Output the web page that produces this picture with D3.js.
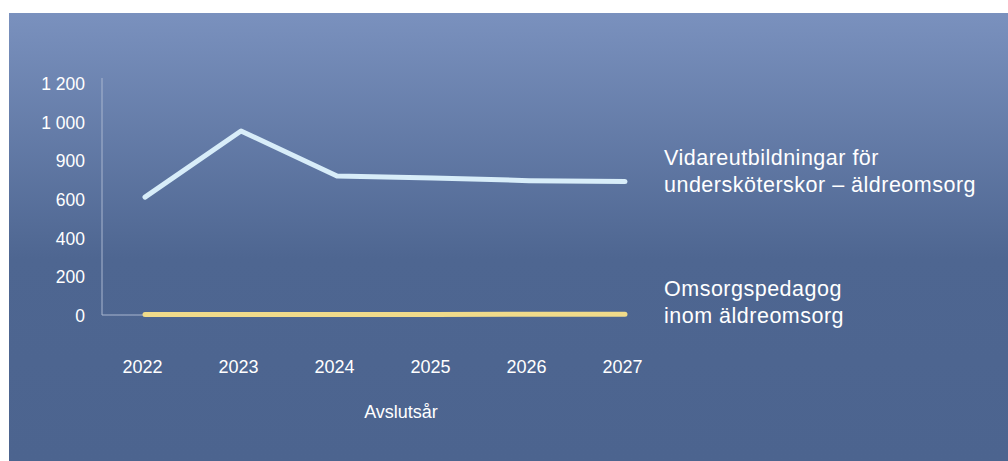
<!DOCTYPE html>
<html>
<head>
<meta charset="utf-8">
<script src="https://cdn.jsdelivr.net/npm/d3@7"></script>
<style>
  html, body { margin: 0; padding: 0; background: #fff; }
  svg { display: block; font-family: "Liberation Sans", Arial, sans-serif; }
</style>
</head>
<body>
<svg id="chart" width="1008" height="461"></svg>
<script>
const years = ["2022", "2023", "2024", "2025", "2026", "2027"];
const vidareutbildning = [610, 952, 719, 709, 695, 690];
const omsorgspedagog = [2, 2, 3, 3, 4, 4];
const yTicks = [0, 200, 400, 600, 800, 1000, 1200];
const yTickLabels = ["0", "200", "400", "600", "900", "1 000", "1 200"];
const seriesNames = [
    ["Vidareutbildningar för", "undersköterskor – äldreomsorg"],
    ["Omsorgspedagog", "inom äldreomsorg"],
];
const axisTitle = "Avslutsår";

const svg = d3.select("#chart");
const width = 1008;
const height = 461;

// background panel with gradient
const defs = svg.append("defs");
const grad = defs.append("linearGradient")
    .attr("id", "bg").attr("x1", 0).attr("y1", 0).attr("x2", 0).attr("y2", 1);
grad.append("stop").attr("offset", "0%").attr("stop-color", "#7a91be");
grad.append("stop").attr("offset", "55%").attr("stop-color", "#4e6691");
grad.append("stop").attr("offset", "100%").attr("stop-color", "#4c648f");

svg.append("rect")
    .attr("x", 9).attr("y", 13)
    .attr("width", width - 9).attr("height", height - 13)
    .attr("fill", "url(#bg)");

const x = d3.scalePoint()
    .domain(years)
    .range([145, 625]);
const y = d3.scaleLinear()
    .domain([0, 1200])
    .range([315, 83]);

// axis lines
const axisColor = "#a9b6cf";
svg.append("line")
    .attr("x1", 102).attr("x2", 102)
    .attr("y1", y(1200) - 5).attr("y2", y(0))
    .attr("stroke", axisColor).attr("stroke-width", 1);
svg.append("line")
    .attr("x1", 102).attr("x2", x(years[0]))
    .attr("y1", y(0)).attr("y2", y(0))
    .attr("stroke", axisColor).attr("stroke-width", 1);

// y axis labels
svg.append("g")
    .attr("transform", "translate(85,1)")
    .call(d3.axisLeft(y).tickValues(yTicks).tickSize(0).tickPadding(0)
        .tickFormat((d, i) => yTickLabels[i]))
    .call(g => g.select(".domain").remove())
    .call(g => g.selectAll("text")
        .attr("fill", "#ffffff")
        .attr("font-size", 17.5)
        .attr("font-family", "Liberation Sans, Arial, sans-serif"));

// x axis labels
svg.append("g")
    .attr("transform", "translate(-3,360)")
    .call(d3.axisBottom(x).tickSize(0).tickPadding(0))
    .call(g => g.select(".domain").remove())
    .call(g => g.selectAll("text")
        .attr("fill", "#ffffff")
        .attr("font-size", 18)
        .attr("font-family", "Liberation Sans, Arial, sans-serif"));

svg.append("text")
    .attr("x", 401).attr("y", 418)
    .attr("text-anchor", "middle")
    .attr("fill", "#ffffff")
    .attr("font-size", 18)
    .text(axisTitle);

const line = d3.line()
    .x((d, i) => x(years[i]))
    .y(d => y(d));

const series = [
    { values: omsorgspedagog, color: "#f0db8a" },
    { values: vidareutbildning, color: "#d8edf9" },
];

svg.selectAll("path.series")
    .data(series)
    .join("path")
    .attr("class", "series")
    .attr("d", d => line(d.values))
    .attr("fill", "none")
    .attr("stroke", d => d.color)
    .attr("stroke-width", 5)
    .attr("stroke-linecap", "round")
    .attr("stroke-linejoin", "round");

// series labels
const labelY = [165, 296];
svg.selectAll("text.serieslabel")
    .data(seriesNames)
    .join("text")
    .attr("class", "serieslabel")
    .attr("x", 664)
    .attr("y", (d, i) => labelY[i])
    .attr("fill", "#ffffff")
    .attr("font-size", 21.5)
    .attr("letter-spacing", 0.5)
    .selectAll("tspan")
    .data(d => d)
    .join("tspan")
    .attr("x", 664)
    .attr("dy", (d, i) => i === 0 ? 0 : 26.5)
    .text(d => d);
</script>
</body>
</html>
